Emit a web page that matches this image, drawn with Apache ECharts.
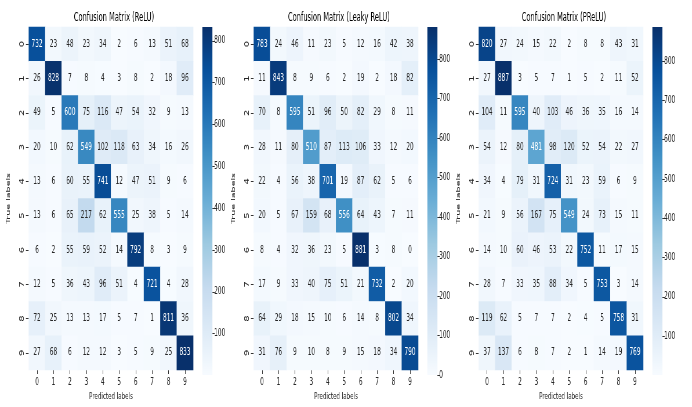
<!DOCTYPE html>
<html><head><meta charset="utf-8">
<script src="https://cdn.jsdelivr.net/npm/echarts@6/dist/echarts.min.js"></script>
<style>
html,body{margin:0;padding:0;background:#fff;overflow:hidden;width:692px;height:407px;}
#wrap{width:692px;height:407px;overflow:hidden;position:relative;}
#chart{position:absolute;left:0;top:0;width:1194px;height:407px;transform:scaleX(0.58);transform-origin:0 0;}
</style></head><body><div id="wrap"><div id="chart"></div></div>
<script>
const categories = ['0','1','2','3','4','5','6','7','8','9'];
const titles = ['Confusion Matrix (ReLU)', 'Confusion Matrix (Leaky ReLU)', 'Confusion Matrix (PReLU)'];
const reluMatrix = [
  [732, 23, 48, 23, 34, 2, 6, 13, 51, 68],
  [26, 828, 7, 8, 4, 3, 8, 2, 18, 96],
  [49, 5, 600, 75, 116, 47, 54, 32, 9, 13],
  [20, 10, 62, 549, 102, 118, 63, 34, 16, 26],
  [13, 6, 60, 55, 741, 12, 47, 51, 9, 6],
  [13, 6, 65, 217, 62, 555, 25, 38, 5, 14],
  [6, 2, 55, 59, 52, 14, 792, 8, 3, 9],
  [12, 5, 36, 43, 96, 51, 4, 721, 4, 28],
  [72, 25, 13, 13, 17, 5, 7, 1, 811, 36],
  [27, 68, 6, 12, 12, 3, 5, 9, 25, 833]
];
const leakyMatrix = [
  [783, 24, 46, 11, 23, 5, 12, 16, 42, 38],
  [11, 843, 8, 9, 6, 2, 19, 2, 18, 82],
  [70, 8, 595, 51, 96, 50, 82, 29, 8, 11],
  [28, 11, 80, 510, 87, 113, 106, 33, 12, 20],
  [22, 4, 56, 38, 701, 19, 87, 62, 5, 6],
  [20, 5, 67, 159, 68, 556, 64, 43, 7, 11],
  [8, 4, 32, 36, 23, 5, 881, 3, 8, 0],
  [17, 9, 33, 40, 75, 51, 21, 732, 2, 20],
  [64, 29, 18, 15, 10, 6, 14, 8, 802, 34],
  [31, 76, 9, 10, 8, 9, 15, 18, 34, 790]
];
const preluMatrix = [
  [820, 27, 24, 15, 22, 2, 8, 8, 43, 31],
  [27, 887, 3, 5, 7, 1, 5, 2, 11, 52],
  [104, 11, 595, 40, 103, 46, 36, 35, 16, 14],
  [54, 12, 80, 481, 98, 120, 52, 54, 22, 27],
  [34, 4, 79, 31, 724, 31, 23, 59, 6, 9],
  [21, 9, 56, 167, 75, 549, 24, 73, 15, 11],
  [14, 10, 60, 46, 53, 22, 752, 11, 17, 15],
  [28, 7, 33, 35, 88, 34, 5, 753, 3, 14],
  [119, 62, 5, 7, 7, 2, 4, 5, 758, 31],
  [37, 137, 6, 8, 7, 2, 1, 14, 19, 769]
];
const reluTicks = [100, 200, 300, 400, 500, 600, 700, 800];
const leakyTicks = [0, 100, 200, 300, 400, 500, 600, 700, 800];
const preluTicks = [100, 200, 300, 400, 500, 600, 700, 800];

const matrices = [reluMatrix, leakyMatrix, preluMatrix];
const ticksList = [reluTicks, leakyTicks, preluTicks];

const BLUES = ['#f7fbff','#deebf7','#c6dbef','#9ecae1','#6baed6','#4292c6','#2171b5','#08519c','#08306b'];
function hex2rgb(h){return [parseInt(h.substr(1,2),16),parseInt(h.substr(3,2),16),parseInt(h.substr(5,2),16)];}
function bluesAt(t){
  t=Math.max(0,Math.min(1,t));
  const p=t*(BLUES.length-1); const i=Math.min(BLUES.length-2,Math.floor(p)); const f=p-i;
  const a=hex2rgb(BLUES[i]), b=hex2rgb(BLUES[i+1]);
  return [0,1,2].map(k=>a[k]+(b[k]-a[k])*f);
}
function lum(rgb){
  const c=rgb.map(v=>{v/=255;return v<=0.03928?v/12.92:Math.pow((v+0.055)/1.055,2.4);});
  return 0.2126*c[0]+0.7152*c[1]+0.0722*c[2];
}

const S = 0.58;
const px = v => v / S;           // screen px -> layout px
const hmLeft = [28.8, 253.8, 478.8];
const hmWidth = 164.4;
const gridTop = 27, gridH = 348;
const cbGap = 9.2, cbW = 10;
const FONT = 'DejaVu Sans';

const option = {animation:false, backgroundColor:'#fff', title:[], grid:[], xAxis:[], yAxis:[], series:[], visualMap:[]};

matrices.forEach((m, i) => {
  let mn = Infinity, mx = -Infinity;
  m.forEach(r => r.forEach(v => { mn = Math.min(mn, v); mx = Math.max(mx, v); }));
  const data = [];
  m.forEach((row, y) => row.forEach((v, x) => {
    const col = bluesAt((v - mn) / (mx - mn));
    data.push({value:[x, y, v], label:{color: lum(col) > 0.408 ? '#262626' : '#ffffff'}});
  }));
  const L = px(hmLeft[i]), W = px(hmWidth);
  const cbL = px(hmLeft[i] + hmWidth + cbGap), cbWW = px(cbW);
  option.title.push({text: titles[i], left: L + W/2, top: 7, textAlign:'center',
    textStyle:{fontFamily:FONT, fontSize:11.5, fontWeight:'normal', color:'#000'}});
  option.grid.push({left:L, top:gridTop, width:W, height:gridH});
  option.grid.push({left:cbL, top:gridTop, width:cbWW, height:gridH});
  const gi = i*2;
  option.xAxis.push({type:'category', gridIndex:gi, data:categories, position:'bottom',
    axisLine:{show:false}, axisTick:{show:true, alignWithLabel:true, length:4, lineStyle:{color:'#333', width:1}},
    axisLabel:{margin:7, fontFamily:FONT, fontSize:10, color:'#262626'}, splitLine:{show:false}, splitArea:{show:false},
    name:'Predicted labels', nameLocation:'middle', nameGap:22,
    nameTextStyle:{fontFamily:FONT, fontSize:9.5, color:'#262626'}});
  option.yAxis.push({type:'category', gridIndex:gi, data:categories, inverse:true,
    axisLine:{show:false}, axisTick:{show:true, alignWithLabel:true, length:5, lineStyle:{color:'#333', width:1}},
    axisLabel:{rotate:90, margin:6, fontFamily:FONT, fontSize:10, color:'#262626'}, splitLine:{show:false}, splitArea:{show:false},
    name:'True labels', nameLocation:'middle', nameGap:30, nameRotate:90,
    nameTextStyle:{fontFamily:FONT, fontSize:9.5, color:'#262626'}});
  option.xAxis.push({type:'category', gridIndex:gi+1, data:['cb'], show:false});
  option.yAxis.push({type:'value', gridIndex:gi+1, min:mn, max:mx, position:'right',
    axisLine:{show:false}, splitLine:{show:false},
    axisTick:{show:true, length:4, customValues:ticksList[i], lineStyle:{color:'#333'}},
    axisLabel:{margin:3, customValues:ticksList[i], fontFamily:FONT, fontSize:10, color:'#262626'}});
  option.series.push({type:'heatmap', xAxisIndex:gi, yAxisIndex:gi, data:data,
    itemStyle:{borderWidth:0},
    label:{show:true, fontFamily:FONT, fontSize:10}, emphasis:{disabled:true}});
  option.series.push({type:'bar', xAxisIndex:gi+1, yAxisIndex:gi+1, data:[mx], barWidth:'100%', silent:true,
    itemStyle:{color: new echarts.graphic.LinearGradient(0,0,0,1, BLUES.slice().reverse().map((c,k)=>({offset:k/(BLUES.length-1), color:c})))}});
  option.visualMap.push({type:'continuous', show:false, seriesIndex: option.series.length-2, min:mn, max:mx,
    inRange:{color:BLUES}});
});

const chart = echarts.init(document.getElementById('chart'), null, {renderer:'canvas'});
chart.setOption(option);
</script></body></html>
